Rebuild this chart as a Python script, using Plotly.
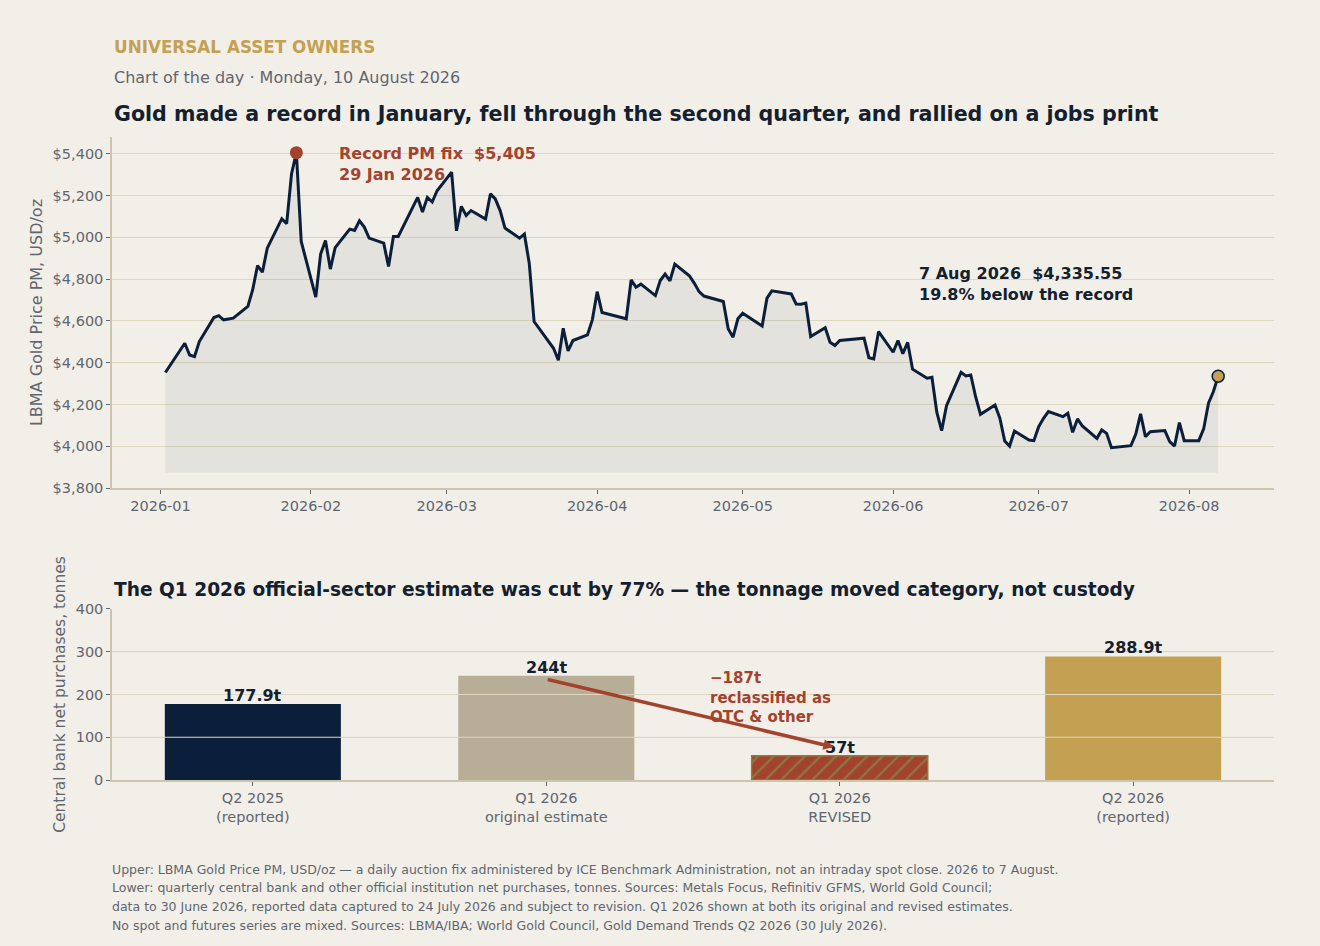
import plotly.graph_objects as go

# --- data -----------------------------------------------------------------
# LBMA Gold Price PM, USD/oz
dates = [
    "2026-01-02", "2026-01-06", "2026-01-07", "2026-01-08", "2026-01-09",
    "2026-01-12", "2026-01-13", "2026-01-14", "2026-01-15", "2026-01-16",
    "2026-01-19", "2026-01-20", "2026-01-21", "2026-01-22", "2026-01-23",
    "2026-01-26", "2026-01-27", "2026-01-28", "2026-01-29", "2026-01-30",
    "2026-02-02", "2026-02-03", "2026-02-04", "2026-02-05", "2026-02-06",
    "2026-02-09", "2026-02-10", "2026-02-11", "2026-02-12", "2026-02-13",
    "2026-02-16", "2026-02-17", "2026-02-18", "2026-02-19",
    "2026-02-23", "2026-02-24", "2026-02-25", "2026-02-26", "2026-02-27",
    "2026-03-02", "2026-03-03", "2026-03-04", "2026-03-05", "2026-03-06",
    "2026-03-09", "2026-03-10", "2026-03-11", "2026-03-12", "2026-03-13",
    "2026-03-16", "2026-03-17", "2026-03-18", "2026-03-19",
    "2026-03-23", "2026-03-24", "2026-03-25", "2026-03-26", "2026-03-27",
    "2026-03-30", "2026-03-31", "2026-04-01", "2026-04-02",
    "2026-04-07", "2026-04-08", "2026-04-09", "2026-04-10",
    "2026-04-13", "2026-04-14", "2026-04-15", "2026-04-16", "2026-04-17",
    "2026-04-20", "2026-04-21", "2026-04-22", "2026-04-23",
    "2026-04-27", "2026-04-28", "2026-04-29", "2026-04-30", "2026-05-01",
    "2026-05-05", "2026-05-06", "2026-05-07",
    "2026-05-11", "2026-05-12", "2026-05-13", "2026-05-14", "2026-05-15",
    "2026-05-18", "2026-05-19", "2026-05-20", "2026-05-21",
    "2026-05-26", "2026-05-27", "2026-05-28", "2026-05-29",
    "2026-06-01", "2026-06-02", "2026-06-03", "2026-06-04", "2026-06-05",
    "2026-06-08", "2026-06-09", "2026-06-10", "2026-06-11", "2026-06-12",
    "2026-06-15", "2026-06-16", "2026-06-17", "2026-06-18", "2026-06-19",
    "2026-06-22", "2026-06-23", "2026-06-24", "2026-06-25", "2026-06-26",
    "2026-06-29", "2026-06-30", "2026-07-01", "2026-07-02", "2026-07-03",
    "2026-07-06", "2026-07-07", "2026-07-08", "2026-07-09", "2026-07-10",
    "2026-07-13", "2026-07-14", "2026-07-15", "2026-07-16",
    "2026-07-20", "2026-07-21", "2026-07-22", "2026-07-23", "2026-07-24",
    "2026-07-27", "2026-07-28", "2026-07-29", "2026-07-30", "2026-07-31",
    "2026-08-03", "2026-08-04", "2026-08-05", "2026-08-06", "2026-08-07",
]
prices = [
    4353, 4493, 4437, 4429, 4501,
    4616, 4625, 4605, 4609, 4613,
    4669, 4749, 4865, 4833, 4948,
    5089, 5065, 5303, 5405, 4980,
    4714, 4920, 4985, 4848, 4951,
    5039, 5033, 5079, 5049, 4996,
    4972, 4860, 5004, 5004,
    5191, 5121, 5191, 5169, 5223,
    5312, 5031, 5148, 5104, 5128,
    5087, 5208, 5184, 5128, 5044,
    4996, 5015, 4876, 4597,
    4469, 4412, 4565, 4456, 4506,
    4533, 4605, 4740, 4640,
    4610, 4796, 4761, 4776,
    4721, 4793, 4824, 4792, 4872,
    4816, 4781, 4740, 4719,
    4693, 4562, 4522, 4610, 4637,
    4576, 4709, 4744,
    4729, 4681, 4680, 4685, 4525,
    4567, 4498, 4482, 4506,
    4517, 4424, 4418, 4549,
    4450, 4506, 4443, 4497, 4369,
    4326, 4330, 4163, 4075, 4194,
    4354, 4337, 4341, 4237, 4153,
    4198, 4134, 4025, 4001, 4073,
    4030, 4027, 4094, 4134, 4166,
    4142, 4158, 4067, 4131, 4097,
    4038, 4078, 4062, 3993,
    4003, 4057, 4155, 4046, 4070,
    4075, 4022, 4001, 4113, 4027,
    4027, 4083, 4206, 4261, 4335.55,
]

# central bank net purchases, tonnes
quarters = ["Q2 2025<br>(reported)", "Q1 2026<br>original estimate",
            "Q1 2026<br>REVISED", "Q2 2026<br>(reported)"]
tonnes = [177.9, 244, 57, 288.9]

# --- style ----------------------------------------------------------------
BG = "#f2efe8"
NAVY = "#0b1f3a"
GOLD = "#c4a152"
RED = "#a3432e"
BEIGE = "#b8ae97"
OLIVE = "#8c7a40"
GRID = "#ddd7c2"
AXIS = "#cdc5ad"
GREY = "#5f6670"
INK = "#14202e"
FONT = "DejaVu Sans"

rec_i = prices.index(max(prices))
last_i = len(prices) - 1
floor = min(prices) * 0.97
bar_colors = [NAVY, BEIGE, RED, GOLD]
revised = 2  # the hatched bar

fig = go.Figure()

# shaded area under the price line
fig.add_trace(go.Scatter(x=dates, y=[floor] * len(dates), mode="lines",
                         line=dict(width=0), hoverinfo="skip",
                         xaxis="x", yaxis="y"))
fig.add_trace(go.Scatter(x=dates, y=prices, mode="lines",
                         line=dict(color=NAVY, width=3),
                         fill="tonexty", fillcolor="rgba(11,31,58,0.06)",
                         xaxis="x", yaxis="y"))
# record + latest markers
fig.add_trace(go.Scatter(x=[dates[rec_i]], y=[prices[rec_i]], mode="markers",
                         marker=dict(size=13, color=RED),
                         xaxis="x", yaxis="y"))
fig.add_trace(go.Scatter(x=[dates[last_i]], y=[prices[last_i]], mode="markers",
                         marker=dict(size=12, color=GOLD,
                                     line=dict(color=NAVY, width=1.5)),
                         xaxis="x", yaxis="y"))

# bars: plain ones, then the hatched revised estimate on its own
plain = [i for i in range(len(quarters)) if i != revised]
fig.add_trace(go.Bar(
    x=[quarters[i] for i in plain], y=[tonnes[i] for i in plain], width=0.6,
    marker=dict(color=[bar_colors[i] for i in plain], line=dict(width=0)),
    xaxis="x2", yaxis="y2"))
fig.add_trace(go.Bar(
    x=[quarters[revised]], y=[tonnes[revised]], width=0.6,
    marker=dict(color=RED, line=dict(color=OLIVE, width=1.5),
                pattern=dict(shape="/", fillmode="overlay", fgcolor=OLIVE,
                             fgopacity=1, size=11, solidity=0.2)),
    xaxis="x2", yaxis="y2"))

fig.update_layout(
    width=1320, height=946,
    margin=dict(l=112, r=46, t=137, b=166),
    paper_bgcolor=BG, plot_bgcolor=BG,
    showlegend=False, barmode="overlay",
    font=dict(family=FONT, size=14.5, color=GREY),
    xaxis=dict(domain=[0, 1], anchor="y", type="date",
               range=["2025-12-22", "2026-08-18 12:00"],
               dtick="M1", tickformat="%Y-%m",
               showgrid=False, showline=True, linecolor=AXIS, linewidth=1.5,
               ticks="outside", tickcolor=GREY, ticklen=4),
    yaxis=dict(domain=[0.454, 1], anchor="x",
               range=[3800, 5480], dtick=200, tickprefix="$", tickformat=",",
               gridcolor=GRID, gridwidth=1,
               showline=True, linecolor=AXIS, linewidth=1.5,
               ticks="outside", tickcolor=GREY, ticklen=4,
               zeroline=False,
               title=dict(text="LBMA Gold Price PM, USD/oz", standoff=6,
                          font=dict(size=16, color=GREY))),
    xaxis2=dict(domain=[0, 1], anchor="y2", type="category",
                categoryorder="array", categoryarray=quarters,
                range=[-0.48, 3.48],
                showgrid=False, showline=True, linecolor=AXIS, linewidth=1.5,
                ticks="outside", tickcolor=GREY, ticklen=4),
    yaxis2=dict(domain=[0, 0.266], anchor="x2",
                range=[0, 400], dtick=100,
                gridcolor=GRID, gridwidth=1,
                showline=True, linecolor=AXIS, linewidth=1.5,
                ticks="outside", tickcolor=GREY, ticklen=4,
                zeroline=False,
                title=dict(text="Central bank net purchases, tonnes", standoff=6,
                           font=dict(size=15.5, color=GREY))),
)

# gridlines drawn over the bars
for v in [100, 200, 300]:
    fig.add_shape(type="line", xref="x2 domain", yref="y2",
                  x0=0, x1=1, y0=v, y1=v, layer="above",
                  line=dict(color=GRID, width=1.2))

# headings
fig.add_annotation(text="<b>UNIVERSAL ASSET OWNERS</b>", xref="paper", yref="paper",
                   x=0, y=1.140, xanchor="left", yanchor="middle", showarrow=False,
                   font=dict(size=16.8, color=GOLD))
fig.add_annotation(text="Chart of the day · Monday, 10 August 2026",
                   xref="paper", yref="paper",
                   x=0, y=1.0918, xanchor="left", yanchor="middle", showarrow=False,
                   font=dict(size=16, color=GREY))
fig.add_annotation(text="<b>Gold made a record in January, fell through the second "
                        "quarter, and rallied on a jobs print</b>",
                   xref="paper", yref="paper",
                   x=0, y=1.0358, xanchor="left", yanchor="middle", showarrow=False,
                   font=dict(size=20.6, color=INK))
fig.add_annotation(text="<b>The Q1 2026 official-sector estimate was cut by 77% "
                        "— the tonnage moved category, not custody</b>",
                   xref="paper", yref="paper",
                   x=0, y=0.297, xanchor="left", yanchor="middle", showarrow=False,
                   font=dict(size=18.6, color=INK))

# price annotations
fig.add_annotation(text=f"<b>Record PM fix  ${prices[rec_i]:,.0f}<br>29 Jan 2026</b>",
                   x=dates[rec_i], y=prices[rec_i], xref="x", yref="y",
                   xanchor="left", yanchor="top", xshift=41, yshift=11,
                   align="left", showarrow=False,
                   font=dict(size=16, color=RED))
pct = (1 - prices[last_i] / prices[rec_i]) * 100
fig.add_annotation(text=f"<b>7 Aug 2026  ${prices[last_i]:,.2f}<br>"
                        f"{pct:.1f}% below the record</b>",
                   x=dates[last_i], y=prices[last_i], xref="x", yref="y",
                   xanchor="left", yanchor="top", xshift=-301, yshift=114,
                   align="left", showarrow=False,
                   font=dict(size=16, color=INK))

# bar value labels
for q, v in zip(quarters, tonnes):
    fig.add_annotation(text=f"<b>{v:g}t</b>", x=q, y=v, xref="x2", yref="y2",
                       xanchor="center", yanchor="bottom", yshift=-3,
                       showarrow=False, font=dict(size=16, color=INK))

# reclassification arrow
fig.add_annotation(x=1.98, y=77, ax=1.0, ay=236, xref="x2", yref="y2",
                   axref="x2", ayref="y2", text="", showarrow=True,
                   arrowhead=2, arrowsize=0.6, arrowwidth=3.5, arrowcolor=RED)
fig.add_annotation(text=f"<b>−{tonnes[1] - tonnes[2]:g}t<br>reclassified as<br>OTC &amp; other</b>",
                   x=1.55, y=264, xref="x2", yref="y2",
                   xanchor="left", yanchor="top", align="left", showarrow=False,
                   font=dict(size=15, color=RED))

# footnotes
notes = [
    "Upper: LBMA Gold Price PM, USD/oz — a daily auction fix administered by ICE "
    "Benchmark Administration, not an intraday spot close. 2026 to 7 August.",
    "Lower: quarterly central bank and other official institution net purchases, "
    "tonnes. Sources: Metals Focus, Refinitiv GFMS, World Gold Council;",
    "data to 30 June 2026, reported data captured to 24 July 2026 and subject to "
    "revision. Q1 2026 shown at both its original and revised estimates.",
    "No spot and futures series are mixed. Sources: LBMA/IBA; World Gold Council, "
    "Gold Demand Trends Q2 2026 (30 July 2026).",
]
for i, line in enumerate(notes):
    fig.add_annotation(text=line, xref="paper", yref="paper",
                       x=-0.0017, y=-(869 + i * 18.7 - 780) / 643,
                       xanchor="left", yanchor="middle", showarrow=False,
                       font=dict(size=12.5, color=GREY))

fig.write_html("out.html", config={"displayModeBar": False},
               post_script="document.body.style.margin='0';")
